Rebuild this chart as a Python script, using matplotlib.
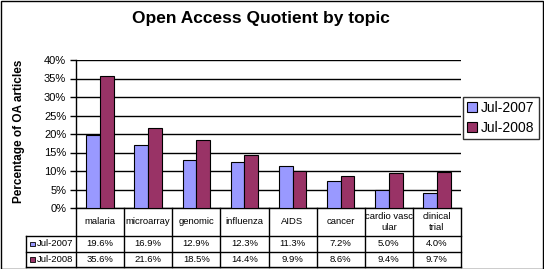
import matplotlib
matplotlib.use("Agg")
import matplotlib.pyplot as plt
import numpy as np
from matplotlib.lines import Line2D
from matplotlib.patches import Patch, Rectangle

plt.rcParams['font.family'] = ['Liberation Sans', 'DejaVu Sans']

title = "Open Access Quotient by topic"
ylabel = "Percentage of OA articles"
categories = ["malaria", "microarray", "genomic", "influenza", "AIDS", "cancer",
              "cardio vasc\nular", "clinical\ntrial"]
series_names = ["Jul-2007", "Jul-2008"]
jul2007 = [19.6, 16.9, 12.9, 12.3, 11.3, 7.2, 5.0, 4.0]
jul2008 = [35.6, 21.6, 18.5, 14.4, 9.9, 8.6, 9.4, 9.7]
yticks = [0, 5, 10, 15, 20, 25, 30, 35, 40]
colors = ["#9999FF", "#993366"]

W, H = 544, 269
fig = plt.figure(figsize=(W / 100, H / 100), dpi=100)

def fx(x):
    return x / W

def fy(y):
    return 1 - y / H

# plot area
x0, x1, ytop, ybot = 76, 461, 60, 208
ax = fig.add_axes([fx(x0), fy(ybot), fx(x1) - fx(x0), fy(ytop) - fy(ybot)])
n = len(categories)
idx = np.arange(n)
bw = 0.285
ax.bar(idx - bw / 2, jul2007, width=bw, color=colors[0], edgecolor='black', linewidth=0.8, zorder=3)
ax.bar(idx + bw / 2, jul2008, width=bw, color=colors[1], edgecolor='black', linewidth=0.8, zorder=3)
ax.set_xlim(-0.5, n - 0.5)
ax.set_ylim(0, 40)
ax.set_yticks(yticks)
ax.set_yticklabels([f"{v}%" for v in yticks], fontsize=8)
ax.set_xticks([])
ax.yaxis.grid(True, color='black', linewidth=1)
ax.set_axisbelow(True)
for s in ['top', 'right']:
    ax.spines[s].set_visible(False)
ax.spines['left'].set_linewidth(1)
ax.spines['bottom'].set_linewidth(1)
ax.tick_params(axis='y', direction='out', length=4, width=1, pad=3)
ax.patch.set_alpha(0)

fig.text(fx(261), fy(19), title, ha='center', va='center', fontsize=12.5, fontweight='bold')
fig.text(fx(19), fy(131), ylabel, ha='center', va='center', rotation=90, fontsize=8.5, fontweight='bold')

# data table
tl = 26
r0, r1, r2, r3 = 208, 236, 252, 267
colw = (x1 - x0) / n

def line(xa, ya, xb, yb):
    fig.add_artist(Line2D([fx(xa), fx(xb)], [fy(ya), fy(yb)], color='black', linewidth=1,
                          transform=fig.transFigure))

for i in range(n + 1):
    xx = x0 + i * colw
    line(xx, r0, xx, r3)
line(tl, r1, tl, r3)
for yy in (r1, r2, r3):
    line(tl, yy, x1, yy)

fs = 6.8
for i, c in enumerate(categories):
    cx = x0 + (i + 0.5) * colw
    fig.text(fx(cx), fy((r0 + r1) / 2), c, ha='center', va='center', fontsize=fs,
             linespacing=1.3, color='black')
    fig.text(fx(cx), fy((r1 + r2) / 2), f"{jul2007[i]:.1f}%", ha='center', va='center', fontsize=fs)
    fig.text(fx(cx), fy((r2 + r3) / 2), f"{jul2008[i]:.1f}%", ha='center', va='center', fontsize=fs)

for k, (name, yc) in enumerate(zip(series_names, [(r1 + r2) / 2, (r2 + r3) / 2])):
    fig.add_artist(Rectangle((fx(30), fy(yc + 2.2)), fx(4.5), fy(yc - 2.2) - fy(yc + 2.2),
                             facecolor=colors[k], edgecolor='black', linewidth=0.6,
                             transform=fig.transFigure))
    fig.text(fx(37), fy(yc), name, ha='left', va='center', fontsize=fs)

# legend
handles = [Patch(facecolor=colors[0], edgecolor='black', linewidth=0.8),
           Patch(facecolor=colors[1], edgecolor='black', linewidth=0.8)]
leg = fig.legend(handles, series_names, loc='upper left',
                 bbox_to_anchor=(fx(463), fy(97)), bbox_transform=fig.transFigure,
                 fontsize=10, frameon=True, fancybox=False, handlelength=0.7, handleheight=0.7,
                 handletextpad=0.3, borderpad=0.3, labelspacing=0.4, borderaxespad=0)
leg.get_frame().set_edgecolor('black')
leg.get_frame().set_linewidth(1)

# chart border
fig.add_artist(Rectangle((fx(0.5), fy(268.5)), fx(543) - fx(0.5), fy(0.5) - fy(268.5),
                         facecolor='none', edgecolor='black', linewidth=1, transform=fig.transFigure))

fig.savefig("out.png", dpi=100)
